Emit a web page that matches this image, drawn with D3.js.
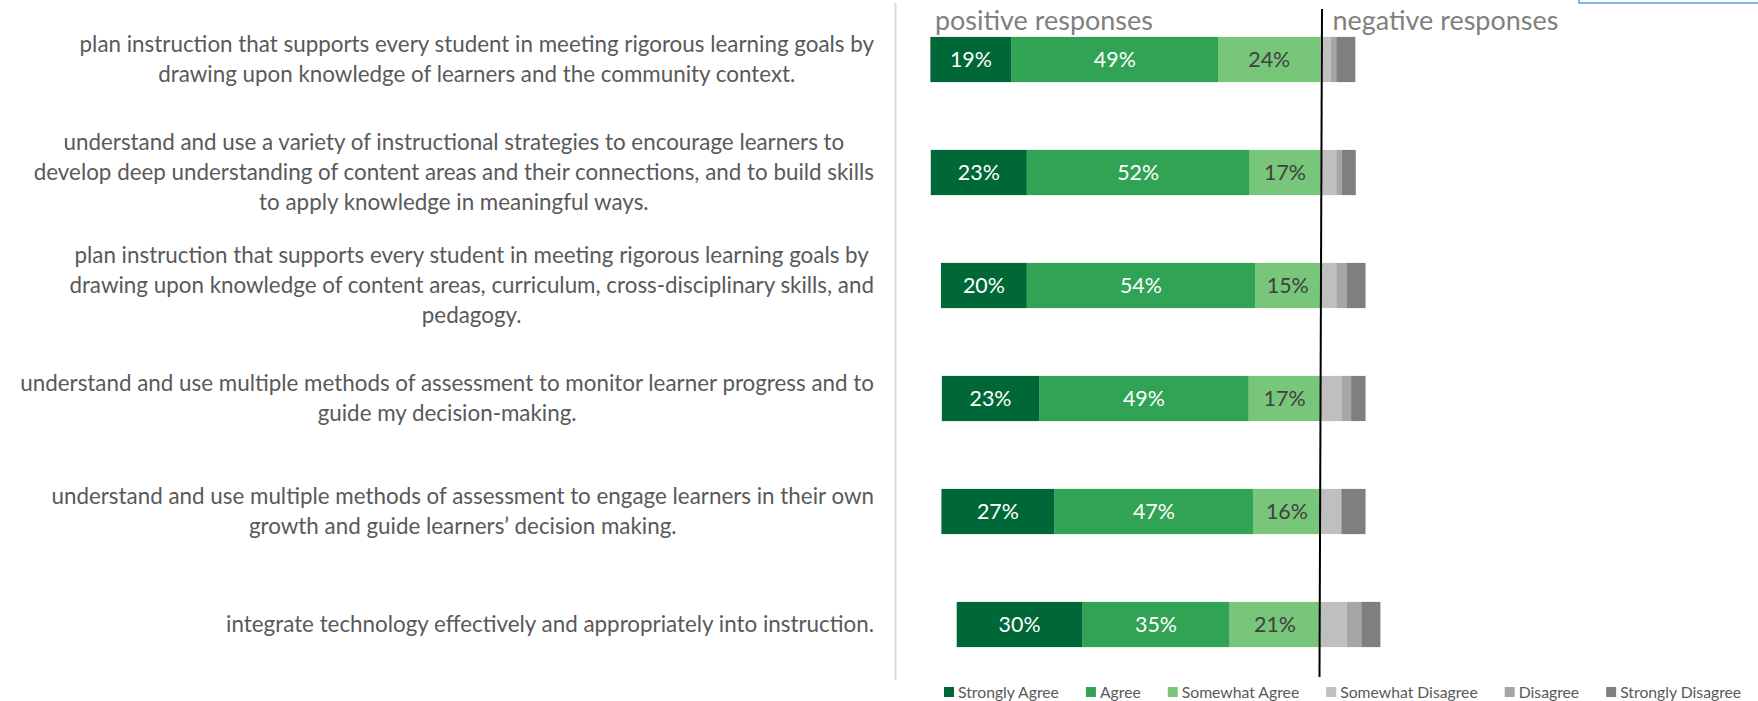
<!DOCTYPE html>
<html>
<head>
<meta charset="utf-8">
<script src="https://cdn.jsdelivr.net/npm/d3@7"></script>
<style>
  html, body { margin: 0; padding: 0; background: #fff; }
  svg { display: block; font-family: Lato, "Open Sans", sans-serif; }
</style>
</head>
<body>
<div id="chart"></div>
<script>
// category labels, already broken into lines as in the original
const categories = [
    ["plan instruction that supports every student in meeting rigorous learning goals by",
     "drawing upon knowledge of learners and the community context."],
    ["understand and use a variety of instructional strategies to encourage learners to",
     "develop deep understanding of content areas and their connections, and to build skills",
     "to apply knowledge in meaningful ways."],
    ["plan instruction that supports every student in meeting rigorous learning goals by",
     "drawing upon knowledge of content areas, curriculum, cross-disciplinary skills, and",
     "pedagogy."],
    ["understand and use multiple methods of assessment to monitor learner progress and to",
     "guide my decision-making."],
    ["understand and use multiple methods of assessment to engage learners in their own",
     "growth and guide learners\u2019 decision making."],
    ["integrate technology effectively and appropriately into instruction."]
];

const seriesNames = ["Strongly Agree", "Agree", "Somewhat Agree", "Somewhat Disagree", "Disagree", "Strongly Disagree"];
const seriesColors = ["#006837", "#31a354", "#78c679", "#bfbfbf", "#a6a6a6", "#7f7f7f"];

// percentages per category (top to bottom)
const stronglyAgree     = [19.1, 22.6, 20.2, 22.9, 26.6, 29.6];
const agree             = [48.6, 52.4, 53.7, 49.3, 46.8, 34.6];
const somewhatAgree     = [24.1, 16.7, 15.4, 16.9, 15.8, 21.4];
const somewhatDisagree  = [2.4, 3.7, 3.7, 4.9, 4.9, 6.1];
const disagree          = [1.3, 1.3, 2.4, 2.3, 0.0, 3.5];
const stronglyDisagree  = [4.5, 3.3, 4.5, 3.4, 5.7, 4.5];

const width = 1758, height = 701;

const svg = d3.select("#chart").append("svg")
    .attr("width", width)
    .attr("height", height);

// rows for the stack; positive answers go to the left of zero
const rows = categories.map((c, i) => ({
    i: i,
    "Strongly Agree": -stronglyAgree[i],
    "Agree": -agree[i],
    "Somewhat Agree": -somewhatAgree[i],
    "Somewhat Disagree": somewhatDisagree[i],
    "Disagree": disagree[i],
    "Strongly Disagree": stronglyDisagree[i]
}));

// stacking order: closest to zero first
const stackKeys = ["Somewhat Agree", "Agree", "Strongly Agree", "Somewhat Disagree", "Disagree", "Strongly Disagree"];
const stacked = d3.stack()
    .keys(stackKeys)
    .offset(d3.stackOffsetDiverging)(rows);

const x = d3.scaleLinear().domain([-100, 100]).range([895.5, 1745.5]);
const y = d3.scaleBand()
    .domain(d3.range(categories.length))
    .range([3, 681])
    .paddingInner(0.6)
    .paddingOuter(0.3);

const color = d3.scaleOrdinal().domain(seriesNames).range(seriesColors);

// fit a text element's font size so that it spans a given width
function fitSize(text, base, target) {
    const probe = svg.append("text").attr("font-size", base).text(text);
    const w = probe.node().getComputedTextLength();
    probe.remove();
    return base * target / w;
}

const labelSize = fitSize(categories[0][0], 20, 795);
const valueSize = fitSize("19%", 20, 42);
const headSize = fitSize("positive responses", 24, 218);
const legendSize = fitSize("Strongly Agree", 15, 101);

// left axis line
svg.append("line")
    .attr("x1", x(-100)).attr("x2", x(-100))
    .attr("y1", 3).attr("y2", 680)
    .attr("stroke", "#d9d9d9")
    .attr("stroke-width", 2);

// bars
const layer = svg.append("g").selectAll("g")
    .data(stacked)
    .join("g")
    .attr("fill", d => color(d.key));

layer.selectAll("rect")
    .data(d => d)
    .join("rect")
    .attr("x", d => x(Math.min(d[0], d[1])))
    .attr("y", d => y(d.data.i))
    .attr("width", d => Math.abs(x(d[1]) - x(d[0])))
    .attr("height", y.bandwidth());

// value labels on the positive segments
const labelled = stacked.filter(s => ["Strongly Agree", "Agree", "Somewhat Agree"].includes(s.key));
svg.append("g").selectAll("g")
    .data(labelled)
    .join("g")
    .attr("fill", d => d.key === "Somewhat Agree" ? "#404040" : "#ffffff")
    .selectAll("text")
    .data(d => d)
    .join("text")
    .attr("x", d => x((d[0] + d[1]) / 2))
    .attr("y", d => y(d.data.i) + y.bandwidth() / 2)
    .attr("dy", "0.35em")
    .attr("text-anchor", "middle")
    .attr("font-size", valueSize)
    .text(d => Math.round(Math.abs(d[1] - d[0])) + "%");

// zero divider
svg.append("line")
    .attr("x1", x(0) + 1.5).attr("x2", x(0) - 1)
    .attr("y1", 9).attr("y2", 677)
    .attr("stroke", "#000")
    .attr("stroke-width", 2);

// headings
svg.append("text")
    .attr("x", 935).attr("y", 29.5)
    .attr("font-size", headSize)
    .attr("fill", "#808080")
    .text("positive responses");

svg.append("text")
    .attr("x", x(0) + 12).attr("y", 29.5)
    .attr("font-size", headSize)
    .attr("fill", "#808080")
    .text("negative responses");

// category labels, centred block, right edge near the axis
const lineGap = 30;
const catG = svg.append("g").attr("fill", "#595959").attr("font-size", labelSize);
categories.forEach((lines, i) => {
    const t = catG.append("text").attr("text-anchor", "middle");
    const cy = y(i) + y.bandwidth() / 2;
    lines.forEach((ln, j) => {
        t.append("tspan")
            .attr("y", cy + (j - (lines.length - 1) / 2) * lineGap)
            .attr("dy", "0.35em")
            .text(ln);
    });
    let maxW = 0;
    t.selectAll("tspan").each(function () {
        maxW = Math.max(maxW, this.getComputedTextLength());
    });
    t.selectAll("tspan").attr("x", 874 - maxW / 2);
});

// legend
const legend = svg.append("g").attr("font-size", legendSize).attr("fill", "#595959");
let lx = 944;
seriesNames.forEach(name => {
    legend.append("rect")
        .attr("x", lx).attr("y", 687)
        .attr("width", 10).attr("height", 10)
        .attr("fill", color(name));
    const t = legend.append("text")
        .attr("x", lx + 14).attr("y", 692)
        .attr("dy", "0.35em")
        .text(name);
    lx += 14 + t.node().getComputedTextLength() + 27;
});

// corner of a neighbouring box, cut by the frame
svg.append("rect")
    .attr("x", 1579).attr("y", -10)
    .attr("width", 200).attr("height", 13)
    .attr("fill", "none")
    .attr("stroke", "#5b9bd5")
    .attr("stroke-width", 1.5);
</script>
</body>
</html>
